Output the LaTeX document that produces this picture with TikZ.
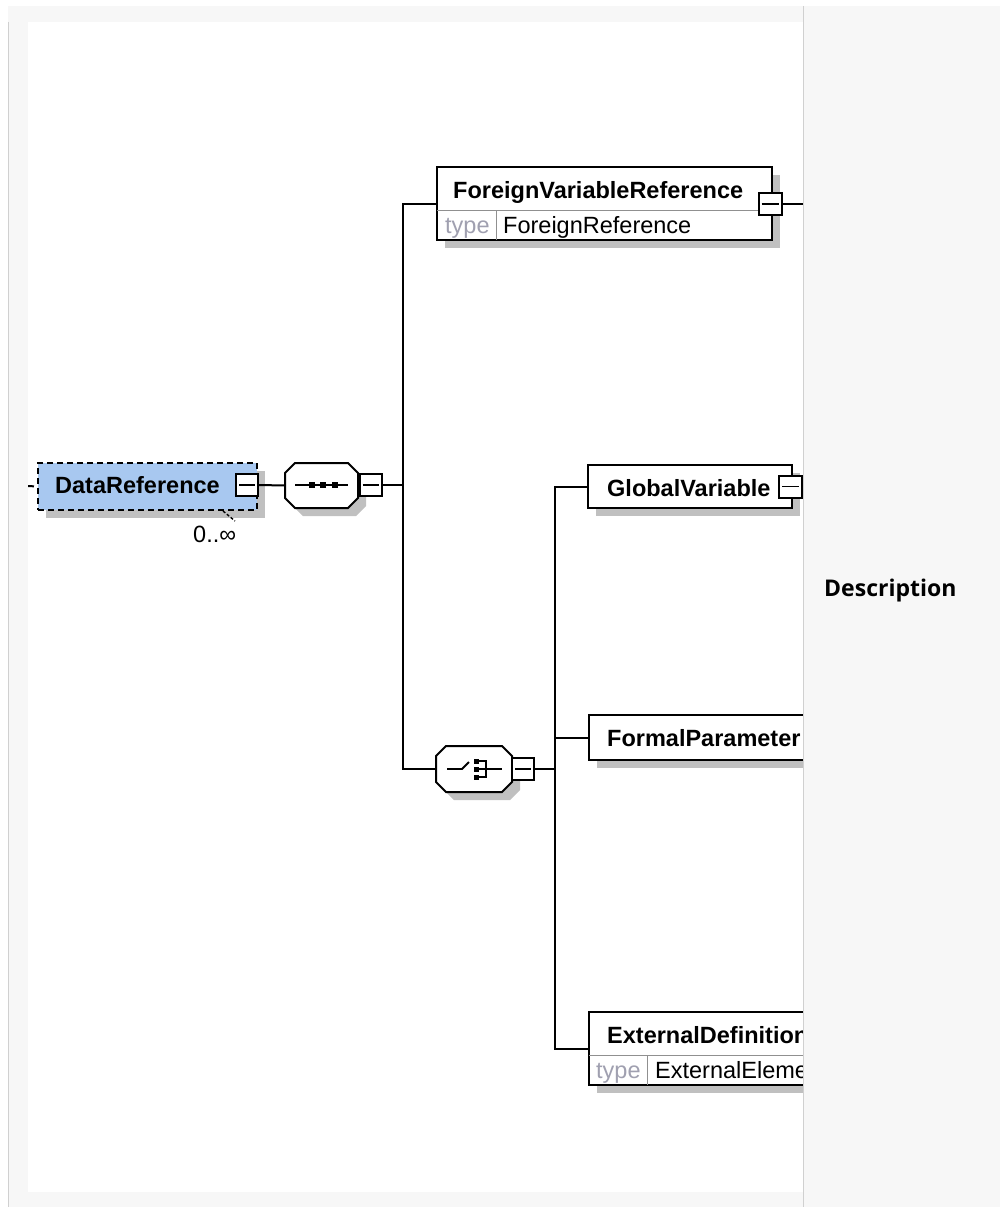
\documentclass[tikz,border=0pt]{standalone}
\usepackage{fontspec}
\setmainfont{Liberation Sans}
\newfontfamily\descfont{Open Sans}
\usetikzlibrary{shadows}
\definecolor{panelgray}{HTML}{F7F7F7}
\definecolor{rulegray}{HTML}{D0D0D0}
\definecolor{shadowgray}{HTML}{C0C0C0}
\definecolor{optblue}{HTML}{A8C8F0}
\definecolor{typegray}{HTML}{A0A0B0}
\definecolor{divgray}{HTML}{909090}
\newcommand\myoct[5]{%
 \fill[shadowgray] ({#1+#5+8},{#2+8}) -- ({#3-#5+8},{#2+8}) -- ({#3+8},{#2+#5+8}) -- ({#3+8},{#4-#5+8}) -- ({#3-#5+8},{#4+8}) -- ({#1+#5+8},{#4+8}) -- ({#1+8},{#4-#5+8}) -- ({#1+8},{#2+#5+8}) -- cycle;
 \draw[fill=white, line width=2pt] ({#1+#5},#2) -- ({#3-#5},#2) -- (#3,{#2+#5}) -- (#3,{#4-#5}) -- ({#3-#5},#4) -- ({#1+#5},#4) -- (#1,{#4-#5}) -- (#1,{#2+#5}) -- cycle;}
\begin{document}
\begin{tikzpicture}[x=1pt,y=-1pt,
  elem/.style={draw, line width=2pt, fill=white, inner sep=0pt,
    drop shadow={shadow xshift=8pt, shadow yshift=-8pt, fill=shadowgray, opacity=1}},
  minusbox/.style={draw, line width=2pt, fill=white, minimum width=22pt, minimum height=22pt, inner sep=0pt,
    path picture={\draw[line width=1.8pt] ([xshift=3pt]path picture bounding box.west) -- ([xshift=-3pt]path picture bounding box.east);}},
  anchorbox/.style={draw=none, inner sep=0pt},
  title/.style={font=\fontsize{23.5}{28}\selectfont\bfseries, inner sep=0pt, anchor=base west},
  plain/.style={font=\fontsize{23.5}{28}\selectfont, inner sep=0pt, anchor=base west},
  typelbl/.style={plain, text=typegray},
  conn/.style={line width=2pt},
  divider/.style={draw=divgray, line width=1pt}]
\useasboundingbox (0,0) rectangle (1000,1207);
\fill[white] (0,0) rectangle (1000,1207);
\fill[panelgray] (8,6) rectangle (1000,1207);
\fill[white] (28,22) rectangle (803,1192);
\draw[rulegray, line width=1pt] (8.5,22) -- (8.5,1207);

\begin{scope}
\clip (28,22) rectangle (803,1192);
% DataReference
\node[elem, dashed, dash pattern=on 6pt off 4pt, fill=optblue, minimum width=219pt, minimum height=47pt] (dr) at (147.5,486.5) {};
\node[title] (drt) at (55,493.5) {DataReference};
\node[minusbox] (drm) at (247,485) {};
\coordinate (drin) at (28,486);
\draw[conn, dash pattern=on 6pt off 4pt] (drin) -- (dr.west);
\node[plain] (card) at (193,542.5) {0..\char"221E};
\coordinate (cardA) at (223,511);
\coordinate (cardB) at (235,521);
\draw[line width=1.4pt, dash pattern=on 3pt off 2pt] (cardA) -- (cardB);

% sequence compositor
\myoct{285}{463}{358}{508}{10}
\node[anchorbox, minimum width=73pt, minimum height=45pt] (seq) at (321.5,485.5) {};
\draw[line width=1.8pt] (295,485) -- (348,485);
\foreach \x in {312,323,335} \fill ({\x-3},482) rectangle ({\x+3},488);
\node[minusbox] (seqm) at (370.5,485) {};
\draw[conn] (drm.east) -- (seq.west);

% bus 1
\coordinate (j1) at (403,485);
\draw[conn] (seqm.east) -- (j1);

% ForeignVariableReference
\node[elem, minimum width=335pt, minimum height=73pt] (fvr) at (604.5,203.5) {};
\draw[divider] (437,210) -- (772,210);
\draw[divider] (496,210) -- (496,240);
\node[title] (fvrt) at (453,198.5) {ForeignVariableReference};
\node[typelbl] (fvrty) at (445,233.5) {type};
\node[plain] (fvrtv) at (503,233.5) {ForeignReference};
\node[minusbox, minimum width=23pt] (fvrm) at (770,204) {};
\coordinate (fvrout) at (810,204);
\draw[conn] (fvrm.east) -- (fvrout);

% choice compositor
\myoct{436}{746}{512}{792}{10}
\node[anchorbox, minimum width=76pt, minimum height=46pt] (ch) at (474,769) {};
\draw[line width=1.8pt] (447,769) -- (462,769) -- (469,762);
\foreach \y in {761,769,777} \fill (473.5,{\y-2.5}) rectangle (479,{\y+2.5});
\draw[line width=1.8pt] (478,761) -- (486,761) -- (486,777) -- (478,777);
\draw[line width=1.8pt] (478,769) -- (502,769);
\node[minusbox] (chm) at (523,769) {};

\draw[conn] (fvr.west) -| (j1) |- (ch.west);

% bus 2
\coordinate (j2) at (555,769);
\draw[conn] (chm.east) -- (j2);

% GlobalVariable
\node[elem, minimum width=204pt, minimum height=43pt] (gv) at (690,486.5) {};
\node[title] (gvt) at (607,496) {GlobalVariable};
\node[minusbox, minimum width=23pt] (gvm) at (790.5,486.5) {};

% FormalParameter
\node[elem, minimum width=240pt, minimum height=45pt] (fp) at (709,737.5) {};
\node[title] (fpt) at (607,746) {FormalParameter};

% ExternalDefinition
\node[elem, minimum width=260pt, minimum height=73pt] (ed) at (719,1048.5) {};
\draw[divider] (589,1055) -- (849,1055);
\draw[divider] (647,1055) -- (647,1085);
\node[title] (edt) at (607,1043.5) {ExternalDefinition};
\node[typelbl] (edty) at (596,1078) {type};
\node[plain] (edtv) at (655,1078) {ExternalElement};

\draw[conn] (gv.west) -| (j2) |- (ed.west);
\draw[conn] (fp.west) -- (fp.west -| j2);
\end{scope}

\draw[rulegray, line width=1pt] (803.5,6) -- (803.5,1207);
\node[font=\descfont\fontsize{23}{28}\selectfont\bfseries, inner sep=0pt, anchor=base west] (desc) at (824,596) {Description};
\end{tikzpicture}
\end{document}
